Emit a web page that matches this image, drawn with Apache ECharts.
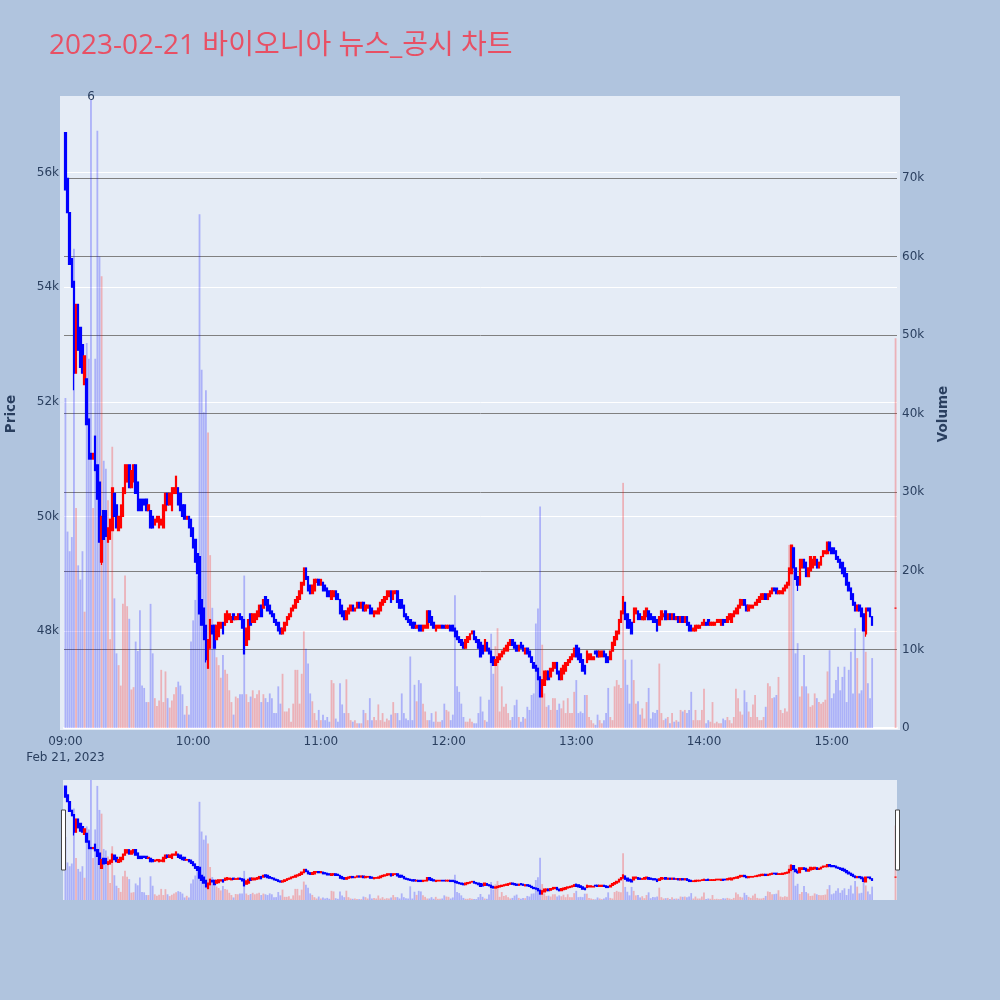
<!DOCTYPE html>
<html><head><meta charset="utf-8">
<script src="https://cdn.jsdelivr.net/npm/echarts@6/dist/echarts.min.js"></script>
<style>html,body{margin:0;padding:0;background:#B0C4DE;}#c{width:1000px;height:1000px;}</style>
</head><body><div id="c"></div>
<script>
const titleText = '2023-02-21 바이오니아 뉴스_공시 차트';
const dateLabel = 'Feb 21, 2023';
const sessionStart = [2023, 1, 21, 9, 0];
const hourTicks = [9, 10, 11, 12, 13, 14, 15];
// [open, close] per minute from 09:00
const candles = [
[56700,55700],[55900,55300],[55300,54400],[54500,54000],[54100,52500],[52500,53700],[53700,52900],[53300,52600],[53000,52500],[52300,52800],
[52400,51600],[51700,51000],[51100,51000],[51000,51100],[51400,50800],[50900,50300],[50600,49550],[49200,50000],[50100,49600],[50100,49650],
[49550,49800],[49600,49950],[49750,50500],[50400,50000],[50200,49800],[49750,50000],[49800,50200],[50000,50500],[50400,50900],[50600,50900],
[50900,50500],[50500,50800],[50600,50900],[50900,50400],[50600,50100],[50300,50100],[50300,50100],[50300,50200],[50300,50100],[50100,50200],
[50100,49800],[50000,49800],[49850,49950],[49900,50000],[49800,50000],[49850,49950],[49800,50200],[50100,50400],[50400,50200],[50200,50400],
[50100,50500],[50400,50500],[50400,50700],[50500,50200],[50400,50100],[50200,50000],[50200,49950],[49950,50000],[50000,49800],[49950,49650],
[49800,49450],[49600,49200],[49350,49000],[49300,48300],[48550,48100],[48400,47850],[48100,47500],[47350,47850],[47700,48200],[48100,47950],
[48100,47700],[47850,48100],[47900,48150],[48050,48150],[48150,47950],[48100,48300],[48150,48350],[48200,48300],[48150,48250],[48300,48200],
[48200,48250],[48200,48300],[48300,48200],[48250,48050],[48200,47600],[47750,48050],[47850,48200],[48300,48100],[48150,48300],[48150,48300],
[48200,48350],[48250,48450],[48450,48250],[48400,48550],[48600,48450],[48550,48350],[48450,48300],[48350,48250],[48300,48150],[48200,48100],
[48150,48000],[48050,47950],[47950,48050],[48000,48150],[48100,48250],[48200,48300],[48250,48400],[48350,48450],[48400,48550],[48500,48600],
[48550,48700],[48650,48850],[48800,49100],[49100,48900],[48950,48700],[48800,48650],[48650,48800],[48700,48900],[48850,48900],[48900,48800],
[48800,48900],[48850,48700],[48800,48700],[48750,48600],[48700,48600],[48550,48700],[48600,48700],[48700,48550],[48650,48550],[48550,48300],
[48450,48250],[48350,48200],[48200,48350],[48300,48400],[48350,48450],[48450,48350],[48350,48400],[48400,48500],[48500,48400],[48400,48500],
[48500,48350],[48350,48450],[48400,48450],[48450,48300],[48400,48300],[48250,48350],[48300,48350],[48300,48400],[48350,48500],[48450,48550],
[48500,48600],[48550,48700],[48600,48700],[48700,48500],[48550,48700],[48650,48700],[48700,48500],[48550,48400],[48550,48400],[48450,48250],
[48300,48200],[48250,48150],[48200,48100],[48150,48050],[48150,48050],[48050,48100],[48100,48000],[48100,48000],[48000,48100],[48050,48100],
[48050,48350],[48350,48150],[48250,48100],[48150,48050],[48000,48100],[48050,48100],[48050,48100],[48100,48050],[48100,48050],[48050,48100],
[48050,48100],[48100,48000],[48100,48000],[48050,47900],[48000,47850],[47900,47800],[47850,47750],[47800,47700],[47700,47850],[47800,47900],
[47850,47950],[47950,48000],[48000,47850],[47900,47800],[47850,47700],[47800,47550],[47750,47600],[47650,47850],[47800,47650],[47700,47600],
[47650,47450],[47550,47400],[47400,47500],[47450,47550],[47500,47600],[47550,47650],[47600,47700],[47650,47750],[47650,47800],[47750,47850],
[47850,47750],[47800,47700],[47750,47650],[47650,47750],[47800,47700],[47750,47650],[47600,47700],[47700,47600],[47650,47550],[47550,47450],
[47450,47350],[47400,47300],[47350,47150],[47200,46850],[46850,47150],[47050,47300],[47150,47300],[47300,47150],[47200,47350],[47300,47450],
[47350,47450],[47450,47250],[47300,47150],[47150,47350],[47250,47400],[47300,47450],[47400,47500],[47450,47550],[47500,47600],[47550,47700],
[47750,47550],[47700,47500],[47600,47450],[47500,47300],[47400,47250],[47450,47650],[47500,47600],[47500,47600],[47500,47550],[47650,47600],
[47650,47550],[47550,47650],[47550,47650],[47650,47550],[47600,47450],[47550,47450],[47500,47650],[47650,47800],[47750,47900],[47850,48000],
[47950,48200],[48150,48350],[48300,48600],[48500,48200],[48300,48050],[48200,48050],[48150,47950],[48150,48400],[48300,48400],[48350,48200],
[48300,48200],[48200,48250],[48200,48350],[48250,48400],[48350,48200],[48300,48200],[48250,48150],[48250,48150],[48200,48000],[48100,48250],
[48200,48350],[48250,48300],[48350,48200],[48200,48300],[48300,48200],[48200,48300],[48300,48200],[48200,48250],[48250,48150],[48150,48250],
[48250,48150],[48150,48250],[48250,48100],[48150,48000],[48100,48000],[48000,48050],[48000,48100],[48050,48100],[48050,48100],[48100,48150],
[48100,48200],[48150,48100],[48200,48100],[48100,48150],[48100,48150],[48100,48150],[48150,48200],[48150,48200],[48100,48200],[48200,48100],
[48200,48150],[48150,48250],[48200,48300],[48150,48300],[48250,48350],[48300,48400],[48300,48450],[48400,48550],[48450,48550],[48550,48450],
[48450,48350],[48350,48450],[48400,48450],[48400,48450],[48450,48500],[48450,48550],[48500,48600],[48550,48650],[48550,48650],[48650,48550],
[48550,48650],[48600,48700],[48650,48750],[48750,48700],[48750,48650],[48650,48700],[48650,48700],[48650,48750],[48700,48800],[48750,48850],
[48800,49100],[49000,49500],[49450,49100],[49100,48900],[48950,48800],[48800,49250],[49100,49250],[49250,49100],[49200,48950],[48950,49100],
[49050,49300],[49100,49250],[49150,49300],[49250,49100],[49100,49200],[49150,49300],[49300,49400],[49350,49400],[49350,49550],[49550,49400],
[49450,49350],[49450,49350],[49400,49250],[49300,49200],[49250,49100],[49200,49000],[49100,48950],[49000,48800],[48850,48700],[48750,48550],
[48650,48450],[48500,48350],[48350,48450],[48450,48350],[48400,48250],[48300,48000],[47950,48400],[48400,48350],[48400,48250],[48250,48100]
];
const volumes = [
42000,25000,22500,24300,61000,28000,20700,18900,22500,14800,
49000,47000,95000,28000,47000,76000,60000,57500,34000,33000,
29000,11300,35800,16500,9500,8000,5400,15800,19400,15500,
13900,4900,5200,11000,9800,15000,5400,5100,3300,3300,
15800,9500,3800,2800,3500,7400,3300,7200,3800,2600,
3500,4300,5200,5900,5400,4300,1700,2800,1700,11000,
13700,16300,19400,65400,45600,40200,43000,37600,22000,15300,
13200,9000,8000,6400,9300,7400,6900,4800,3300,1700,
4000,3800,4300,4300,19400,4300,3300,4000,4800,3800,
4300,4800,3300,4300,3800,3300,4400,3800,1900,1900,
5300,3100,6900,2100,2100,2500,800,3100,7400,7400,
3100,6900,12300,10100,8200,4400,3400,1900,1000,2300,
1000,1700,1000,1400,800,6100,5700,1200,800,5700,
3000,1900,6200,1900,1000,800,1000,600,600,600,
2300,1900,1000,3800,1000,1400,1000,3000,1000,1900,
800,1200,1000,1700,3300,1900,1900,1000,4400,1900,
1200,1000,9100,1000,5500,3400,6100,5700,3100,2100,
1000,1000,1900,800,2100,800,800,1000,3100,2300,
2100,1000,1700,16900,5300,4600,3100,1400,800,800,
1200,800,600,600,1900,4000,2100,1000,800,3600,
12000,6900,10400,12700,2100,5300,2700,3100,1900,1000,
1400,2900,3600,1400,800,1400,1200,2700,2300,4200,
4400,13300,15200,28200,10600,4400,2700,2900,2300,3800,
3800,2300,3100,2500,3500,1900,3800,1900,1900,4600,
6100,1900,2100,1900,4200,4200,1400,1000,600,400,
1700,1000,600,1000,1900,5100,1400,1000,5300,6100,
5500,5100,31200,8700,5500,3100,8700,6100,3100,3400,
1700,2500,1200,3300,5100,1200,2000,1900,2300,8200,
1900,1000,1200,1400,600,1900,800,1000,800,2300,
2100,2300,1900,2300,4600,1000,2300,1000,1000,2300,
5000,600,1000,800,3300,600,800,600,600,1200,
1000,1400,1000,600,1400,5000,3800,2100,1700,4800,
3300,2100,1400,3000,4200,1400,1000,1000,1400,2700,
5700,5300,3800,3900,4200,6500,2300,1900,2500,2100,
23300,23000,23100,9500,10800,4000,5300,9300,5300,4400,
2700,2900,4400,3800,3300,3100,3300,3600,7200,9900,
3800,4400,6100,7800,4800,6500,7800,3300,7400,9700,
4400,12700,8900,4400,4800,12500,9700,5700,3800,8900
];
// [minute index, low, high] where the wick leaves the body
const wicks = [[4,52200,54100],[17,49150,50000],[66,47450,48100],[344,48700,48950],[376,47900,48400]];
// closing auction print at 15:30
const closingMinute = 390;
const closingCandle = [48400, 48400];
const closingVolume = 49600;
const newsMinute = 12;
const newsLabel = '6';

const priceRange = [46307, 57267];
const volumeRange = [0, 79929];

const base = new Date(sessionStart[0], sessionStart[1], sessionStart[2], sessionStart[3], sessionStart[4], 0).getTime();
const MIN = 60000;
const tOf = m => base + m * MIN;

const allMinutes = candles.map((c, i) => i).concat([closingMinute]);
const allCandles = candles.concat([closingCandle]);
const allVolumes = volumes.concat([closingVolume]);
const wickMap = {};
wicks.forEach(w => { wickMap[w[0]] = w; });

function isUp(i) {
  const o = allCandles[i][0], c = allCandles[i][1];
  if (c > o) return true;
  if (c < o) return false;
  return i > 0 ? allCandles[i - 1][1] <= c : true;
}
const candleData = allCandles.map((c, i) => {
  const m = allMinutes[i];
  let lo = Math.min(c[0], c[1]), hi = Math.max(c[0], c[1]);
  if (wickMap[m]) { lo = Math.min(lo, wickMap[m][1]); hi = Math.max(hi, wickMap[m][2]); }
  return [tOf(m), c[0], c[1], lo, hi];
});
const UP_BAR = 'rgba(255,0,0,0.25)', DOWN_BAR = 'rgba(0,0,255,0.25)';
const volData = allVolumes.map((v, i) => ({ value: [tOf(allMinutes[i]), v], itemStyle: { color: isUp(i) ? UP_BAR : DOWN_BAR } }));

const titleFont = "'Open Sans', 'Noto Sans CJK KR', sans-serif";
const font = "'DejaVu Sans', Verdana, sans-serif";
const txt = '#2a3f5f';
const pad = n => (n < 10 ? '0' : '') + n;
const tickTimes = hourTicks.map(h => base + (h - sessionStart[3]) * 60 * MIN);

function timeLabel(v) {
  const val = typeof v === 'object' ? v.value : v;
  if (tickTimes.indexOf(val) < 0) return '';
  const d = new Date(val);
  const s = pad(d.getHours()) + ':' + pad(d.getMinutes());
  return val === tickTimes[0] ? s + '\n' + dateLabel : s;
}

const candleStyle = { color: '#FF0000', color0: '#0000FF', borderColor: '#FF0000', borderColor0: '#0000FF', borderWidth: 1.2 };

const chart = echarts.init(document.getElementById('c'), null, { renderer: 'canvas' });
chart.setOption({
  backgroundColor: '#B0C4DE',
  animation: false,
  title: { text: titleText, left: 49, top: 32, padding: 0, textStyle: { fontFamily: titleFont, fontSize: 28, fontWeight: 'normal', color: '#E85064' } },
  graphic: [
    { type: 'rect', z: -10, silent: true, shape: { x: 60, y: 96, width: 840, height: 634 }, style: { fill: '#E5ECF6' } },
    { type: 'rect', z: 100, silent: true, shape: { x: 61.5, y: 810, width: 4, height: 60 }, style: { fill: '#ffffff', stroke: '#444', lineWidth: 1 } },
    { type: 'rect', z: 100, silent: true, shape: { x: 895.5, y: 810, width: 4, height: 60 }, style: { fill: '#ffffff', stroke: '#444', lineWidth: 1 } }
  ],
  grid: [
    { left: 64, right: 103, top: 100, bottom: 272, containLabel: false, outerBoundsMode: 'none' },
    { left: 63, right: 103, top: 780, bottom: 100, show: true, backgroundColor: '#E5ECF6', borderWidth: 0, containLabel: false, outerBoundsMode: 'none' }
  ],
  xAxis: [
    { type: 'time', gridIndex: 0, min: base - 15000, max: base + (390 * 60 + 15) * 1000,
      minInterval: 3600 * 1000, maxInterval: 3600 * 1000,
      axisLine: { show: true, onZero: false, lineStyle: { color: '#ffffff', width: 2 } },
      axisTick: { show: false }, splitLine: { show: false },
      axisLabel: { color: txt, fontSize: 12, fontFamily: font, margin: 6, lineHeight: 16, hideOverlap: false, formatter: timeLabel } },
    { type: 'time', gridIndex: 1, min: base - 42000, max: base + (390 * 60 + 16) * 1000, show: false }
  ],
  yAxis: [
    { type: 'value', gridIndex: 0, position: 'left', min: priceRange[0], max: priceRange[1], splitNumber: 5,
      axisLine: { show: false }, axisTick: { show: false },
      splitLine: { show: true, showMinLine: false, showMaxLine: false, lineStyle: { color: '#ffffff', width: 1 } },
      axisLabel: { color: txt, fontSize: 12, fontFamily: font, margin: 5, showMinLabel: false, showMaxLabel: false, formatter: v => (v / 1000) + 'k' },
      name: 'Price', nameLocation: 'middle', nameGap: 46, nameRotate: 90,
      nameTextStyle: { color: txt, fontSize: 13.5, fontWeight: 'bold', fontFamily: font } },
    { type: 'value', gridIndex: 0, position: 'right', min: volumeRange[0], max: volumeRange[1], interval: 10000,
      axisLine: { show: false }, axisTick: { show: false },
      splitLine: { show: true, showMinLine: false, showMaxLine: false, lineStyle: { color: '#808080', width: 1 } },
      axisLabel: { color: txt, fontSize: 12, fontFamily: font, margin: 5, showMaxLabel: false, formatter: v => v === 0 ? '0' : (v / 1000) + 'k' },
      name: 'Volume', nameLocation: 'middle', nameGap: 39, nameRotate: 90,
      nameTextStyle: { color: txt, fontSize: 13.5, fontWeight: 'bold', fontFamily: font } },
    { type: 'value', gridIndex: 1, min: priceRange[0], max: priceRange[1], show: false, splitLine: { show: false } },
    { type: 'value', gridIndex: 1, min: volumeRange[0], max: volumeRange[1], show: false, splitLine: { show: false } }
  ],
  series: [
    { type: 'bar', xAxisIndex: 0, yAxisIndex: 1, data: volData, barWidth: 1.8, z: 2, clip: true,
      markPoint: { symbol: 'rect', symbolSize: [1, 1], silent: true, itemStyle: { color: 'rgba(0,0,0,0)' },
        label: { show: true, formatter: newsLabel, position: 'inside', color: txt, fontSize: 12, fontFamily: font, offset: [0, -3] },
        data: [{ coord: [tOf(newsMinute), volumeRange[1]] }] } },
    { type: 'candlestick', xAxisIndex: 0, yAxisIndex: 0, data: candleData, barWidth: 2, itemStyle: candleStyle, z: 3, clip: true },
    { type: 'bar', xAxisIndex: 1, yAxisIndex: 3, data: volData, barWidth: 1.8, z: 2, clip: true },
    { type: 'candlestick', xAxisIndex: 1, yAxisIndex: 2, data: candleData, barWidth: 2, itemStyle: candleStyle, z: 3, clip: true }
  ]
});
</script></body></html>
